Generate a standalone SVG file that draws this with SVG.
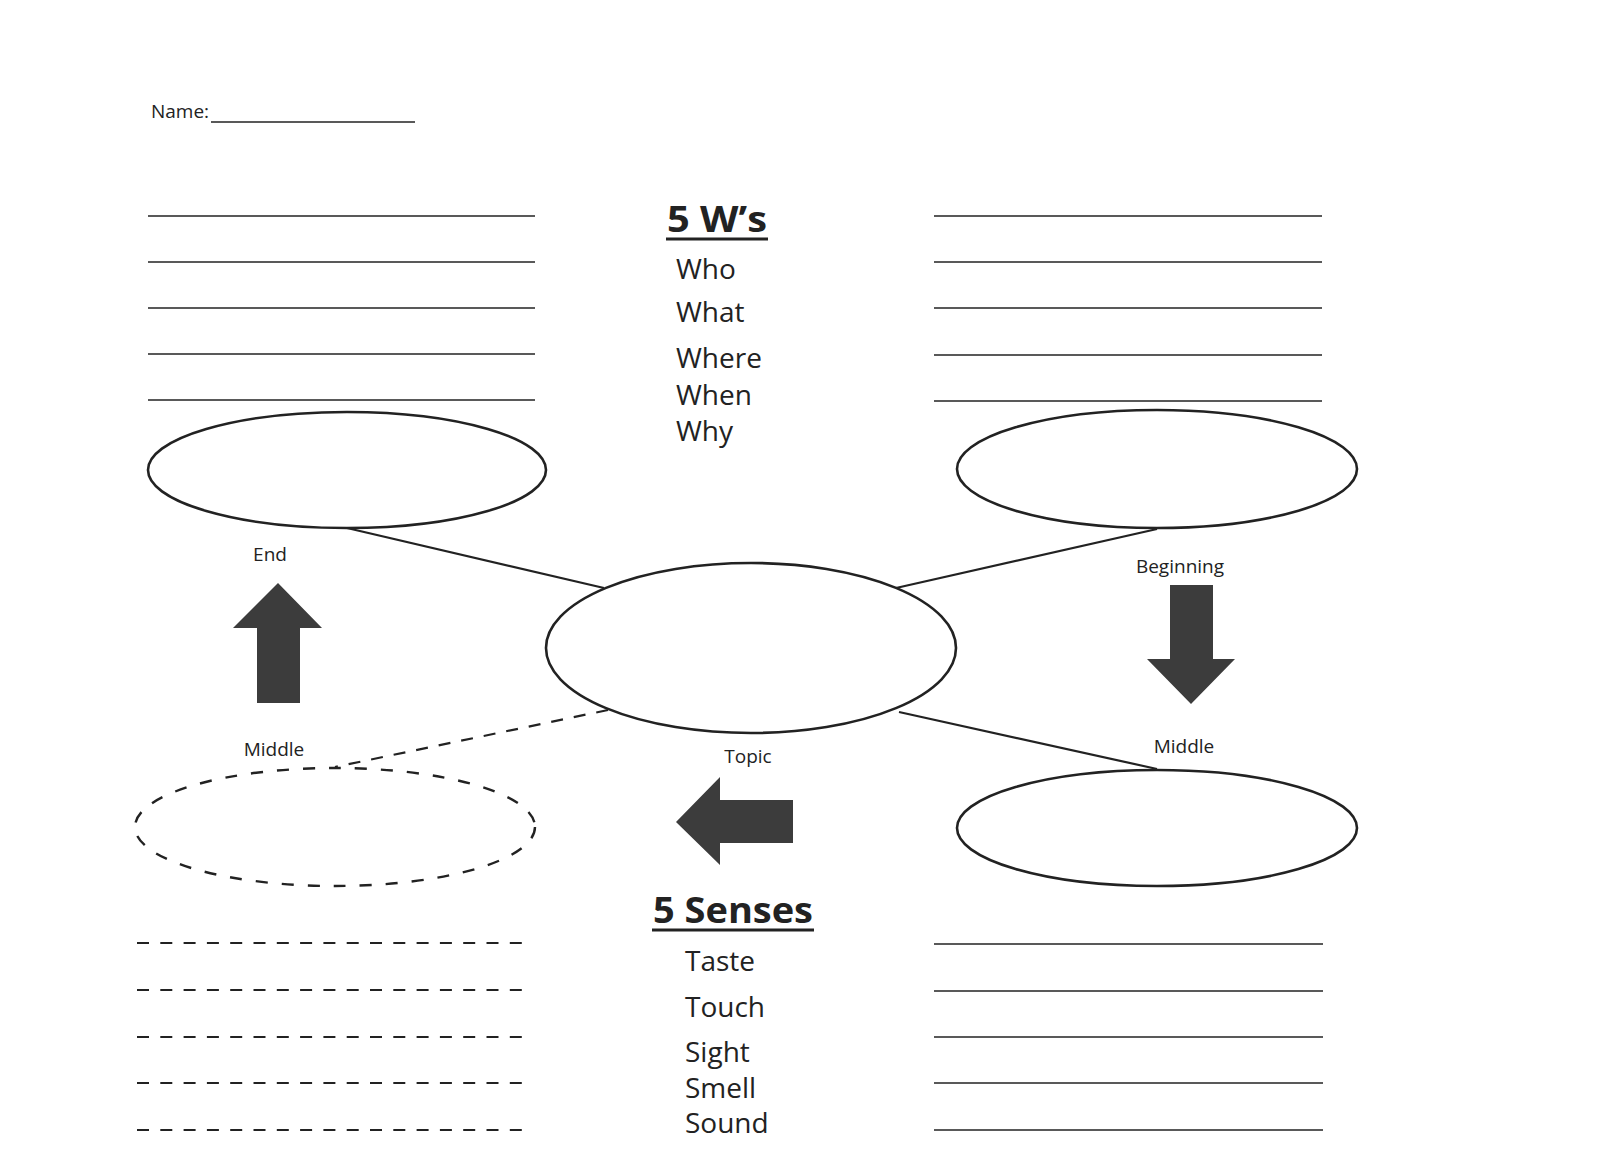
<svg xmlns="http://www.w3.org/2000/svg" width="1600" height="1163" viewBox="0 0 1600 1163">
<style>
.t{font-family:"Open Sans","Liberation Sans",sans-serif;fill:#222}
.sm{font-size:19px}
.lst{font-size:28px}
.hd{font-size:36px;font-weight:bold}
.rule{stroke:#222;stroke-width:1.6;fill:none}
.drule{stroke:#222;stroke-width:2;fill:none;stroke-dasharray:12 11.3}
.node{fill:#fff;stroke:#222;stroke-width:2.6}
.dnode{fill:none;stroke:#222;stroke-width:2.4;stroke-dasharray:12 14}
.conn{stroke:#222;stroke-width:2.2;fill:none}
.arrow{fill:#3c3c3c}
</style>
<rect width="1600" height="1163" fill="#fff"/>

<g id="name">
<text class="t sm" x="151" y="118">Name:</text>
<line class="rule" x1="211" y1="122" x2="415" y2="122"/>
</g>

<g id="lines-top-left">
<line class="rule" x1="148" y1="216" x2="535" y2="216"/>
<line class="rule" x1="148" y1="262" x2="535" y2="262"/>
<line class="rule" x1="148" y1="308" x2="535" y2="308"/>
<line class="rule" x1="148" y1="354" x2="535" y2="354"/>
<line class="rule" x1="148" y1="400" x2="535" y2="400"/>
</g>
<g id="lines-top-right">
<line class="rule" x1="934" y1="216" x2="1322" y2="216"/>
<line class="rule" x1="934" y1="262" x2="1322" y2="262"/>
<line class="rule" x1="934" y1="308" x2="1322" y2="308"/>
<line class="rule" x1="934" y1="355" x2="1322" y2="355"/>
<line class="rule" x1="934" y1="401" x2="1322" y2="401"/>
</g>
<g id="lines-bottom-left">
<line class="drule" x1="137" y1="943" x2="522" y2="943"/>
<line class="drule" x1="137" y1="990" x2="522" y2="990"/>
<line class="drule" x1="137" y1="1037" x2="522" y2="1037"/>
<line class="drule" x1="137" y1="1083" x2="522" y2="1083"/>
<line class="drule" x1="137" y1="1130" x2="522" y2="1130"/>
</g>
<g id="lines-bottom-right">
<line class="rule" x1="934" y1="944" x2="1323" y2="944"/>
<line class="rule" x1="934" y1="991" x2="1323" y2="991"/>
<line class="rule" x1="934" y1="1037" x2="1323" y2="1037"/>
<line class="rule" x1="934" y1="1083" x2="1323" y2="1083"/>
<line class="rule" x1="934" y1="1130" x2="1323" y2="1130"/>
</g>

<g id="fivews">
<text class="t hd" x="667" y="232" textLength="100" lengthAdjust="spacingAndGlyphs">5 W’s</text>
<line x1="666" y1="239" x2="768" y2="239" stroke="#222" stroke-width="3"/>
<text class="t lst" x="676" y="279">Who</text>
<text class="t lst" x="676" y="322">What</text>
<text class="t lst" x="676" y="368">Where</text>
<text class="t lst" x="676" y="405">When</text>
<text class="t lst" x="676" y="441">Why</text>
</g>

<g id="fivesenses">
<text class="t hd" x="653" y="923" textLength="160" lengthAdjust="spacingAndGlyphs">5 Senses</text>
<line x1="652" y1="930" x2="814" y2="930" stroke="#222" stroke-width="3"/>
<text class="t lst" x="685" y="971">Taste</text>
<text class="t lst" x="685" y="1017">Touch</text>
<text class="t lst" x="685" y="1062">Sight</text>
<text class="t lst" x="685" y="1098">Smell</text>
<text class="t lst" x="685" y="1133">Sound</text>
</g>

<g id="connectors">
<line class="conn" x1="347" y1="528" x2="604" y2="588"/>
<line class="conn" x1="1157" y1="529" x2="896" y2="588"/>
<line class="conn" x1="899" y1="712" x2="1157" y2="769"/>
<line class="conn" x1="608" y1="710" x2="335" y2="767" stroke-dasharray="12 11"/>
</g>

<g id="node-end">
<ellipse class="node" cx="347" cy="470" rx="199" ry="58"/>
</g>
<g id="node-beginning">
<ellipse class="node" cx="1157" cy="469" rx="200" ry="59"/>
</g>
<g id="node-topic">
<ellipse class="node" cx="751" cy="648" rx="205" ry="85"/>
</g>
<g id="node-middle-right">
<ellipse class="node" cx="1157" cy="828" rx="200" ry="58"/>
</g>
<g id="node-middle-left">
<ellipse class="dnode" cx="335" cy="827" rx="200" ry="59"/>
</g>

<g id="labels">
<text class="t sm" x="270" y="561" text-anchor="middle">End</text>
<text class="t sm" x="274" y="756" text-anchor="middle">Middle</text>
<text class="t sm" x="1180" y="573" text-anchor="middle">Beginning</text>
<text class="t sm" x="1184" y="753" text-anchor="middle">Middle</text>
<text class="t sm" x="748" y="763" text-anchor="middle">Topic</text>
</g>

<g id="arrow-up">
<polygon class="arrow" points="278,583 322,628 300,628 300,703 257,703 257,628 233,628"/>
</g>
<g id="arrow-down">
<polygon class="arrow" points="1170,585 1213,585 1213,659 1235,659 1191,704 1147,659 1170,659"/>
</g>
<g id="arrow-left">
<polygon class="arrow" points="676,822 720,777 720,800 793,800 793,843 720,843 720,865"/>
</g>
</svg>
